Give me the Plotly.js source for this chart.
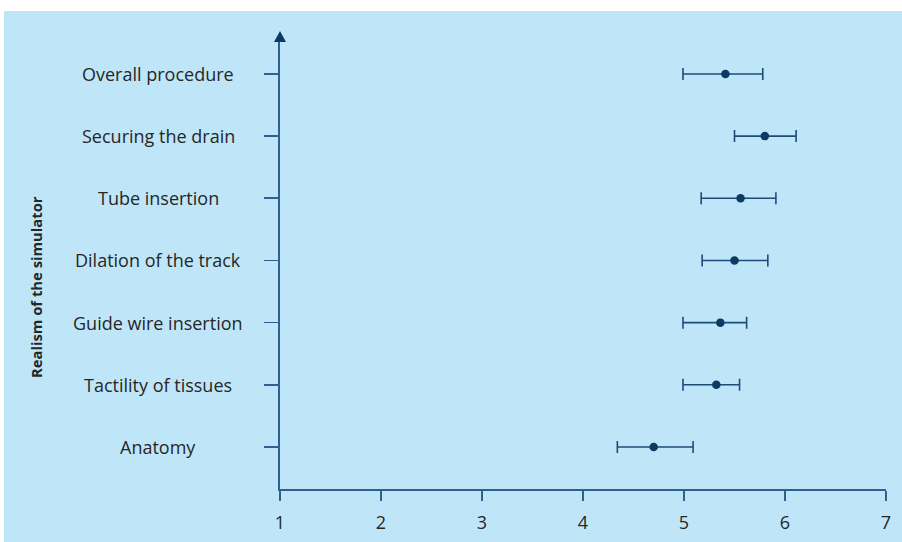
<!DOCTYPE html>
<html>
<head>
<meta charset="utf-8">
<script src="https://cdn.plot.ly/plotly-3.0.1.min.js"></script>
<style>html,body{margin:0;padding:0;background:#fff;}#chart{width:902px;height:542px;}</style>
</head>
<body>
<div id="chart"></div>
<script>
const categories = ['Anatomy', 'Tactility of tissues', 'Guide wire insertion', 'Dilation of the track', 'Tube insertion', 'Securing the drain', 'Overall procedure'];
const means = [4.70, 5.32, 5.36, 5.50, 5.56, 5.80, 5.41];
const lower = [4.34, 4.99, 4.99, 5.18, 5.17, 5.50, 4.99];
const upper = [5.09, 5.55, 5.62, 5.83, 5.91, 6.11, 5.78];
const xTicks = [1, 2, 3, 4, 5, 6, 7];
const yTitle = 'Realism of the simulator';

const FONT = '"Open Sans", Lato, sans-serif';
const AXIS = '#2f6090';
const DARK = '#0c3a63';
const TXT = '#262626';

const trace = {
  type: 'scatter', mode: 'markers',
  x: means, y: categories,
  marker: {color: DARK, size: 8.5},
  error_x: {
    type: 'data', symmetric: false,
    array: upper.map((u, i) => u - means[i]),
    arrayminus: means.map((m, i) => m - lower[i]),
    color: '#1d4c78', thickness: 1.6, width: 6
  },
  hoverinfo: 'skip'
};

const W = 902, H = 542, L = 280, R = 16, T = 42, B = 53;
const pw = W - L - R, ph = H - T - B;
const px = v => (v - L) / pw;
const py = v => (H - B - v) / ph;

const annotations = categories.map(c => ({
  xref: 'paper', yref: 'y', x: px(158), y: c, text: c, showarrow: false,
  xanchor: 'center', yanchor: 'middle', font: {family: FONT, size: 18, color: TXT}
}));
annotations.push({
  xref: 'paper', yref: 'paper', x: px(36), y: py(287), text: '<b>' + yTitle + '</b>',
  textangle: -90, showarrow: false, xanchor: 'center', yanchor: 'middle',
  font: {family: FONT, size: 14.8, color: TXT}
});

const arrowPath = 'M ' + px(274) + ',' + py(42) + ' L ' + px(286) + ',' + py(42) +
  ' L ' + px(280) + ',' + py(31) + ' Z';

const layout = {
  width: W, height: H,
  margin: {l: L, r: R, t: T, b: B, pad: 0},
  paper_bgcolor: '#ffffff', plot_bgcolor: 'rgba(0,0,0,0)',
  showlegend: false,
  xaxis: {
    range: [1, 7], tickvals: xTicks, ticktext: xTicks.map(String),
    showgrid: false, zeroline: false, showline: true, linecolor: AXIS, linewidth: 1.6,
    ticks: 'outside', ticklen: 10, tickwidth: 1.6, tickcolor: AXIS, ticklabelstandoff: 7,
    tickfont: {family: FONT, size: 18, color: TXT}, fixedrange: true
  },
  yaxis: {
    type: 'category', categoryorder: 'array', categoryarray: categories,
    range: [-0.676, 6.514], showticklabels: false,
    showgrid: false, zeroline: false, showline: true, linecolor: AXIS, linewidth: 2,
    ticks: 'outside', ticklen: 14, tickwidth: 1.6, tickcolor: AXIS, fixedrange: true
  },
  shapes: [
    {type: 'rect', layer: 'below', xref: 'paper', yref: 'paper',
     x0: px(4), x1: px(902), y0: py(542), y1: py(11),
     fillcolor: '#bfe6f8', line: {width: 0}},
    {type: 'path', xref: 'paper', yref: 'paper', path: arrowPath,
     fillcolor: DARK, line: {width: 0}}
  ],
  annotations: annotations
};

Plotly.newPlot('chart', [trace], layout, {displayModeBar: false, staticPlot: true});
</script>
</body>
</html>
